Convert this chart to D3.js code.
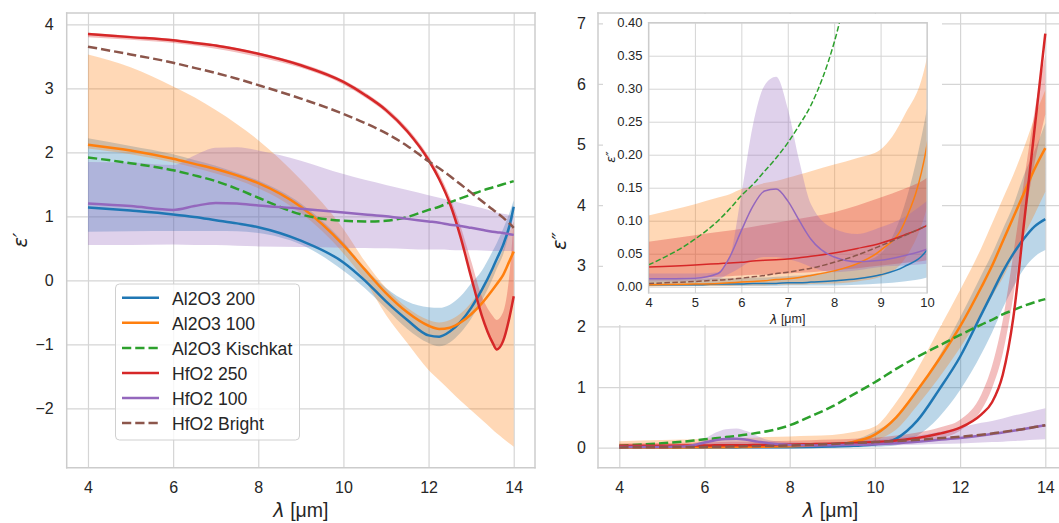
<!DOCTYPE html>
<html><head><meta charset="utf-8">
<script src="https://cdn.jsdelivr.net/npm/d3@7"></script>
<style>body{margin:0;background:#fff}svg{display:block}</style>
</head><body>
<svg id="c" width="1059" height="523"></svg>
<script>
// ---------------- data ----------------
const legendNames = ["Al2O3 200","Al2O3 100","Al2O3 Kischkat","HfO2 250","HfO2 100","HfO2 Bright"];
const xTicksMain = [4,6,8,10,12,14];
const yTicksLeft = [-2,-1,0,1,2,3,4];
const yTicksRight = [0,1,2,3,4,5,6,7];
const xTicksInset = [4,5,6,7,8,9,10];
const yTicksInset = [0,0.05,0.1,0.15,0.2,0.25,0.3,0.35,0.4];

// real part (left panel)
const lam1 = [4,5,6,6.5,7,7.5,8,9,10,10.5,11,11.5,12,12.25,12.5,12.75,13,13.25,13.5,13.6,13.75,13.9,14];
const epsR_al200    = [1.14,1.09,1.03,0.99,0.94,0.89,0.83,0.62,0.28,0.0,-0.33,-0.62,-0.86,-0.88,-0.80,-0.65,-0.43,-0.15,0.18,0.33,0.55,0.85,1.15];
const epsR_al200_lo = [0.76,0.765,0.77,0.77,0.77,0.765,0.74,0.56,0.15,-0.12,-0.44,-0.76,-0.98,-1.03,-0.97,-0.82,-0.60,-0.32,0.02,0.18,0.40,0.75,1.0];
const epsR_al200_hi = [2.22,2.10,1.97,1.88,1.79,1.68,1.56,1.2,0.6,0.2,-0.12,-0.33,-0.42,-0.43,-0.38,-0.25,-0.05,0.15,0.45,0.58,0.80,1.05,1.25];
const epsR_al100    = [2.12,2.03,1.90,1.82,1.74,1.64,1.52,1.15,0.55,0.17,-0.20,-0.50,-0.71,-0.76,-0.74,-0.66,-0.53,-0.36,-0.15,-0.06,0.08,0.30,0.45];
const epsR_al100_lo = [2.06,1.97,1.84,1.76,1.67,1.57,1.44,1.05,0.42,0.0,-0.54,-0.98,-1.40,-1.56,-1.72,-1.88,-2.03,-2.18,-2.33,-2.39,-2.47,-2.55,-2.60];
const epsR_al100_hi = [3.53,3.33,3.03,2.86,2.66,2.44,2.19,1.57,0.80,0.30,-0.12,-0.43,-0.62,-0.66,-0.62,-0.52,-0.35,-0.12,0.15,0.27,0.48,0.75,0.92];
const epsR_kisch    = [1.92,1.83,1.72,1.64,1.55,1.43,1.29,1.03,0.93,0.92,0.93,0.99,1.10,1.15,1.22,1.28,1.34,1.40,1.45,1.47,1.50,1.53,1.55];
const epsR_hf250    = [3.85,3.80,3.75,3.71,3.67,3.61,3.54,3.36,3.10,2.90,2.66,2.33,1.88,1.58,1.20,0.68,0.05,-0.55,-0.97,-1.08,-0.95,-0.58,-0.25];
const epsR_hf250_lo = [3.80,3.76,3.71,3.67,3.62,3.56,3.49,3.32,3.06,2.86,2.62,2.29,1.84,1.55,1.17,0.65,0.02,-0.58,-1.00,-1.10,-0.98,-0.62,-0.30];
const epsR_hf250_hi = [3.87,3.82,3.77,3.73,3.69,3.63,3.56,3.39,3.13,2.94,2.70,2.38,1.94,1.66,1.30,0.85,0.30,-0.25,-0.55,-0.62,-0.50,0.10,0.95];
const epsR_hf100    = [1.20,1.16,1.10,1.16,1.21,1.20,1.17,1.12,1.06,1.03,1.00,0.96,0.92,0.90,0.87,0.85,0.82,0.79,0.76,0.75,0.74,0.72,0.71];
const epsR_hf100_lo = [0.55,0.55,0.56,0.55,0.55,0.54,0.53,0.52,0.51,0.505,0.50,0.49,0.48,0.48,0.475,0.47,0.47,0.465,0.46,0.46,0.46,0.46,0.46];
const epsR_hf100_hi = [1.85,1.84,1.80,1.95,2.07,2.08,2.03,1.87,1.66,1.57,1.49,1.41,1.33,1.29,1.25,1.21,1.17,1.13,1.08,1.06,1.04,1.02,1.00];
const epsR_bright   = [3.65,3.53,3.40,3.32,3.24,3.15,3.05,2.84,2.60,2.46,2.30,2.10,1.86,1.75,1.63,1.50,1.37,1.24,1.11,1.06,0.98,0.89,0.82];

// imaginary part (right panel + inset)
const lam2 = [4,5,5.5,5.75,6,6.25,6.5,6.75,7,7.25,7.5,8,8.5,9,9.5,10,10.5,11,11.5,12,12.5,12.75,13,13.25,13.5,13.75,14];
const epsI_al200    = [0.003,0.003,0.004,0.004,0.004,0.005,0.005,0.005,0.006,0.006,0.007,0.009,0.012,0.018,0.030,0.056,0.15,0.45,0.95,1.50,2.20,2.55,2.90,3.20,3.45,3.65,3.77];
const epsI_al200_lo = [0.001,0.001,0.001,0.001,0.001,0.001,0.001,0.001,0.002,0.002,0.002,0.002,0.003,0.005,0.008,0.014,0.04,0.20,0.50,0.95,1.55,1.90,2.30,2.65,2.95,3.15,3.26];
const epsI_al200_hi = [0.012,0.012,0.013,0.013,0.013,0.014,0.014,0.015,0.016,0.017,0.019,0.025,0.035,0.05,0.12,0.27,0.50,0.95,1.50,2.15,2.85,3.20,3.60,4.00,4.50,4.90,5.35];
const epsI_al100    = [0.003,0.004,0.005,0.006,0.007,0.008,0.009,0.011,0.012,0.014,0.017,0.024,0.035,0.055,0.095,0.215,0.50,0.95,1.45,2.00,2.65,3.00,3.40,3.80,4.20,4.60,4.94];
const epsI_al100_lo = [0.0,0.001,0.001,0.001,0.002,0.002,0.002,0.003,0.003,0.003,0.004,0.005,0.008,0.015,0.04,0.12,0.30,0.70,1.15,1.65,2.20,2.50,2.80,3.15,3.50,3.85,4.22];
const epsI_al100_hi = [0.108,0.125,0.135,0.140,0.148,0.152,0.157,0.160,0.165,0.170,0.175,0.185,0.195,0.208,0.258,0.348,0.75,1.30,1.95,2.60,3.30,3.70,4.10,4.50,4.95,5.45,5.90];
const epsI_kisch    = [0.033,0.072,0.10,0.118,0.138,0.155,0.175,0.195,0.218,0.245,0.275,0.37,0.52,0.68,0.88,1.08,1.30,1.50,1.68,1.86,2.03,2.11,2.20,2.27,2.34,2.40,2.45];
const epsI_hf250    = [0.030,0.033,0.035,0.036,0.037,0.039,0.040,0.041,0.042,0.044,0.046,0.051,0.058,0.066,0.078,0.093,0.12,0.16,0.23,0.33,0.55,0.75,1.20,2.15,3.70,5.27,6.83];
const epsI_hf250_lo = [0.012,0.014,0.015,0.016,0.017,0.018,0.018,0.019,0.020,0.021,0.022,0.025,0.028,0.032,0.036,0.040,0.06,0.09,0.15,0.28,0.62,0.98,1.55,2.50,3.70,4.70,5.50];
const epsI_hf250_hi = [0.068,0.078,0.083,0.085,0.088,0.091,0.094,0.097,0.100,0.103,0.106,0.113,0.123,0.135,0.148,0.165,0.20,0.25,0.33,0.46,0.88,1.35,2.10,3.20,4.40,5.55,6.48];
const epsI_hf100    = [0.012,0.013,0.020,0.045,0.085,0.122,0.145,0.148,0.130,0.100,0.072,0.045,0.038,0.040,0.047,0.057,0.075,0.10,0.13,0.16,0.20,0.225,0.25,0.28,0.31,0.34,0.37];
const epsI_hf100_lo = [0.008,0.009,0.012,0.02,0.03,0.04,0.045,0.045,0.042,0.037,0.030,0.022,0.025,0.030,0.032,0.035,0.04,0.05,0.06,0.07,0.085,0.092,0.10,0.11,0.12,0.13,0.14];
const epsI_hf100_hi = [0.02,0.02,0.022,0.045,0.14,0.245,0.305,0.318,0.27,0.19,0.125,0.088,0.08,0.09,0.105,0.13,0.16,0.20,0.26,0.33,0.41,0.44,0.48,0.53,0.57,0.61,0.65];
const epsI_bright   = [0.005,0.008,0.010,0.011,0.013,0.015,0.017,0.020,0.022,0.025,0.028,0.037,0.048,0.062,0.077,0.093,0.11,0.13,0.155,0.18,0.215,0.235,0.26,0.285,0.31,0.34,0.37];

// ---------------- setup ----------------
const FONT = '"Liberation Sans", Arial, "DejaVu Sans", sans-serif';
const TXT = '#262626';
const GRID = '#d5d5d5';
const SPINE = '#cccccc';
const palette = ['#1f77b4','#ff7f0e','#2ca02c','#d62728','#9467bd','#8c564b'];
const dashed = [false,false,true,false,false,true];
const realSets = [
  [epsR_al200, epsR_al200_lo, epsR_al200_hi],
  [epsR_al100, epsR_al100_lo, epsR_al100_hi],
  [epsR_kisch, null, null],
  [epsR_hf250, epsR_hf250_lo, epsR_hf250_hi],
  [epsR_hf100, epsR_hf100_lo, epsR_hf100_hi],
  [epsR_bright, null, null]
];
const imagSets = [
  [epsI_al200, epsI_al200_lo, epsI_al200_hi],
  [epsI_al100, epsI_al100_lo, epsI_al100_hi],
  [epsI_kisch, null, null],
  [epsI_hf250, epsI_hf250_lo, epsI_hf250_hi],
  [epsI_hf100, epsI_hf100_lo, epsI_hf100_hi],
  [epsI_bright, null, null]
];

const svg = d3.select('#c');
const defs = svg.append('defs');

const xL = d3.scaleLinear().domain([3.5,14.5]).range([66.7,535]);
const yL = d3.scaleLinear().domain([-2.928,4.177]).range([467.7,13]);
const xR = d3.scaleLinear().domain([3.5,14.5]).range([598,1066.6]);
const yR = d3.scaleLinear().domain([-0.33,7.17]).range([467.7,13]);
const xI = d3.scaleLinear().domain([4,10]).range([648.5,927]);
const yI = d3.scaleLinear().domain([-0.0095,0.40]).range([293,22.7]);

function clip(id, x, y){
  defs.append('clipPath').attr('id',id).append('rect')
    .attr('x',x.range()[0]).attr('y',y.range()[1])
    .attr('width',x.range()[1]-x.range()[0]).attr('height',y.range()[0]-y.range()[1]);
}
clip('cL',xL,yL); clip('cR',xR,yR); clip('cI',xI,yI);

function grid(g, x, y, xt, yt, lw){
  const x0=x.range()[0], x1=x.range()[1], y0=y.range()[0], y1=y.range()[1];
  g.append('g').attr('transform',`translate(0,${y0})`)
    .call(d3.axisBottom(x).tickValues(xt).tickSize(-(y0-y1)).tickFormat(''))
    .call(s=>{s.select('.domain').remove(); s.selectAll('line').attr('stroke',GRID).attr('stroke-width',lw);});
  g.append('g').attr('transform',`translate(${x0},0)`)
    .call(d3.axisLeft(y).tickValues(yt).tickSize(-(x1-x0)).tickFormat(''))
    .call(s=>{s.select('.domain').remove(); s.selectAll('line').attr('stroke',GRID).attr('stroke-width',lw);});
}
function labels(g, x, y, xt, yt, fmtX, fmtY, fs, xPad, yPad){
  const y0=y.range()[0], x0=x.range()[0];
  g.append('g').attr('transform',`translate(0,${y0})`)
    .call(d3.axisBottom(x).tickValues(xt).tickSize(0).tickPadding(xPad).tickFormat(fmtX))
    .call(s=>{s.select('.domain').remove(); s.selectAll('text').attr('fill',TXT).attr('font-size',fs).attr('font-family',FONT);});
  g.append('g').attr('transform',`translate(${x0},0)`)
    .call(d3.axisLeft(y).tickValues(yt).tickSize(0).tickPadding(yPad).tickFormat(fmtY))
    .call(s=>{s.select('.domain').remove(); s.selectAll('text').attr('fill',TXT).attr('font-size',fs).attr('font-family',FONT);});
}
function spines(g, x, y, sides, lw){
  const x0=x.range()[0], x1=x.range()[1], y0=y.range()[0], y1=y.range()[1];
  const s = {left:[x0,y1,x0,y0], right:[x1,y1,x1,y0], top:[x0,y1,x1,y1], bottom:[x0,y0,x1,y0]};
  sides.forEach(k=>g.append('line').attr('x1',s[k][0]).attr('y1',s[k][1]).attr('x2',s[k][2]).attr('y2',s[k][3])
    .attr('stroke',SPINE).attr('stroke-width',lw).attr('stroke-linecap','square'));
}
function data(g, lam, sets, x, y, lw, clipId){
  const cg = g.append('g').attr('clip-path',`url(#${clipId})`);
  sets.forEach((s,i)=>{
    if(!s[1]) return;
    const pts = lam.map((l,j)=>({l, lo:s[1][j], hi:s[2][j]}));
    cg.append('path').datum(pts)
      .attr('d', d3.area().x(d=>x(d.l)).y0(d=>y(d.lo)).y1(d=>y(d.hi)).curve(d3.curveMonotoneX))
      .attr('fill',palette[i]).attr('fill-opacity',0.3).attr('stroke','none');
  });
  sets.forEach((s,i)=>{
    const pts = lam.map((l,j)=>({l, v:s[0][j]}));
    cg.append('path').datum(pts)
      .attr('d', d3.line().x(d=>x(d.l)).y(d=>y(d.v)).curve(d3.curveMonotoneX))
      .attr('fill','none').attr('stroke',palette[i]).attr('stroke-width',lw)
      .attr('stroke-dasharray', dashed[i] ? `${3.7*lw},${1.6*lw}` : null);
  });
}
function axisLabel(g, x, y, main, rest, fs, rot){
  const t = g.append('text').attr('x',x).attr('y',y).attr('text-anchor','middle')
    .attr('dominant-baseline','central').attr('fill',TXT).attr('font-size',fs).attr('font-family',FONT);
  if(rot) t.attr('transform',`rotate(-90,${x},${y})`);
  t.append('tspan').attr('font-family','"DejaVu Sans", sans-serif').attr('font-style','italic').text(main);
  t.append('tspan').text(rest);
  return t;
}

const fmtInt = d3.format('d');

// ---------------- left panel ----------------
const gL = svg.append('g');
grid(gL, xL, yL, xTicksMain, yTicksLeft, 1.2);
data(gL, lam1, realSets, xL, yL, 2.5, 'cL');
spines(gL, xL, yL, ['left','right','top','bottom'], 1.5);
labels(gL, xL, yL, xTicksMain, yTicksLeft, fmtInt, d3.format('d'), 16, 14, 13);
axisLabel(gL, (xL.range()[0]+xL.range()[1])/2, 510, 'λ', ' [μm]', 19.5, false);
axisLabel(gL, 20, 240, 'ε′', '', 19.5, true);

// legend
const lg = gL.append('g');
lg.append('rect').attr('x',115.5).attr('y',284).attr('width',184).attr('height',156).attr('rx',4)
  .attr('fill','#ffffff').attr('fill-opacity',0.8).attr('stroke','#d0d0d0').attr('stroke-width',1);
legendNames.forEach((n,i)=>{
  const yy = 297.8 + i*25.06;
  lg.append('line').attr('x1',122).attr('x2',159).attr('y1',yy).attr('y2',yy)
    .attr('stroke',palette[i]).attr('stroke-width',2.5)
    .attr('stroke-dasharray', dashed[i] ? '9.25,4' : null);
  lg.append('text').attr('x',172).attr('y',yy+1).attr('dominant-baseline','central')
    .attr('font-size',17.6).attr('font-family',FONT).attr('fill',TXT).text(n);
});

// ---------------- right panel ----------------
const gR = svg.append('g');
grid(gR, xR, yR, xTicksMain, yTicksRight, 1.2);
data(gR, lam2, imagSets, xR, yR, 2.5, 'cR');
// white box behind inset
gR.append('rect').attr('x',603).attr('y',14).attr('width',339).attr('height',311).attr('fill','#ffffff');
spines(gR, xR, yR, ['left','top','bottom'], 1.5);
labels(gR, xR, yR, xTicksMain, yTicksRight, fmtInt, d3.format('d'), 16, 14, 12);
axisLabel(gR, (xR.range()[0]+1059)/2 + 2, 510, 'λ', ' [μm]', 19.5, false);
axisLabel(gR, 559, 241, 'ε″', '', 19.5, true);

// ---------------- inset ----------------
const gI = svg.append('g');
gI.append('rect').attr('x',xI.range()[0]).attr('y',yI.range()[1])
  .attr('width',xI.range()[1]-xI.range()[0]).attr('height',yI.range()[0]-yI.range()[1]).attr('fill','#fff');
grid(gI, xI, yI, xTicksInset, yTicksInset, 1.0);
data(gI, lam2, imagSets, xI, yI, 1.5, 'cI');
spines(gI, xI, yI, ['left','right','top','bottom'], 1.2);
labels(gI, xI, yI, xTicksInset, yTicksInset, fmtInt, d3.format('.2f'), 13, 5, 6);
axisLabel(gI, (xI.range()[0]+xI.range()[1])/2, 319, 'λ', ' [μm]', 12.5, false);
axisLabel(gI, 610, 157, 'ε″', '', 12.5, true);
</script>
</body></html>
